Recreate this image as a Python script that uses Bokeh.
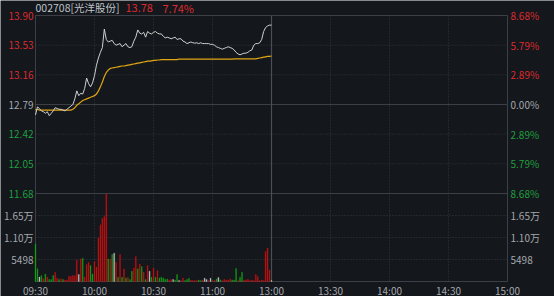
from bokeh.plotting import figure
from bokeh.models import Range1d, ColumnDataSource
from bokeh.core.properties import value
from bokeh.embed import file_html
from bokeh.resources import INLINE

# ---------------- data ----------------
stock_name = "002708[光洋股份]"
last_price = "13.78"
last_pct = "7.74%"
prev_close = 12.79

minutes = list(range(121))
price = [12.66, 12.76, 12.74, 12.71, 12.70, 12.68, 12.70, 12.65, 12.68, 12.71,
         12.75, 12.74, 12.73, 12.73, 12.72, 12.71, 12.73, 12.75, 12.77, 12.79,
         12.86, 12.96, 12.90, 12.93, 12.92, 12.99, 13.12, 13.05, 13.01, 13.06,
         13.15, 13.28, 13.37, 13.44, 13.50, 13.73, 13.60, 13.57, 13.58, 13.59,
         13.55, 13.53, 13.54, 13.55, 13.51, 13.53, 13.55, 13.51, 13.50, 13.51,
         13.58, 13.63, 13.72, 13.68, 13.67, 13.69, 13.63, 13.70, 13.68, 13.67,
         13.69, 13.70, 13.68, 13.67, 13.67, 13.64, 13.62, 13.63, 13.62, 13.61,
         13.62, 13.63, 13.60, 13.61, 13.61, 13.58, 13.57, 13.55, 13.56, 13.57,
         13.56, 13.555, 13.56, 13.55, 13.56, 13.55, 13.55, 13.55, 13.55, 13.54,
         13.54, 13.53, 13.51, 13.50, 13.49, 13.48, 13.49, 13.50, 13.51, 13.50,
         13.49, 13.47, 13.44, 13.42, 13.41, 13.42, 13.43, 13.43, 13.44, 13.46,
         13.47, 13.53, 13.55, 13.55, 13.56, 13.60, 13.70, 13.75, 13.77, 13.78,
         13.78]
avg_price = [12.72, 12.73, 12.72, 12.72, 12.72, 12.72, 12.72, 12.72, 12.72, 12.72,
             12.72, 12.72, 12.72, 12.72, 12.72, 12.72, 12.72, 12.72, 12.72, 12.73,
             12.75, 12.78, 12.80, 12.82, 12.84, 12.85, 12.86, 12.87, 12.88, 12.89,
             12.90, 12.92, 12.96, 13.01, 13.07, 13.14, 13.19, 13.22, 13.24, 13.245,
             13.25, 13.255, 13.26, 13.265, 13.27, 13.27, 13.275, 13.28, 13.285, 13.29,
             13.295, 13.30, 13.305, 13.31, 13.315, 13.32, 13.325, 13.33, 13.33, 13.335,
             13.34, 13.34, 13.345, 13.345, 13.35, 13.35, 13.35, 13.35, 13.35, 13.35,
             13.35, 13.35, 13.35, 13.355, 13.355, 13.355, 13.355, 13.355, 13.355, 13.355,
             13.355, 13.355, 13.355, 13.355, 13.355, 13.355, 13.355, 13.355, 13.355, 13.355,
             13.355, 13.355, 13.355, 13.355, 13.355, 13.355, 13.355, 13.355, 13.355, 13.355,
             13.355, 13.36, 13.36, 13.36, 13.36, 13.36, 13.36, 13.36, 13.36, 13.36,
             13.36, 13.36, 13.36, 13.365, 13.37, 13.375, 13.38, 13.385, 13.39, 13.39,
             13.395]
volume = [9400, 3200, 1100, 1500, 700, 1900, 1100, 500, 500, 1500,
          2300, 900, 500, 700, 500, 400, 400, 1300, 1300, 1500,
          1500, 5400, 1750, 5650, 5800, 1100, 4250, 4800, 4000, 1900,
          5000, 3600, 10900, 14200, 15800, 16250, 21900, 5650, 5650, 6750,
          7080, 4830, 1080, 6750, 1080, 3170, 900, 1080, 500, 2580,
          3400, 6250, 3170, 4400, 3750, 2330, 500, 4000, 2580, 1080,
          3400, 1080, 2750, 900, 1080, 900, 500, 650, 400, 500,
          500, 400, 1750, 250, 250, 900, 250, 500, 830, 400,
          250, 250, 250, 400, 250, 400, 830, 500, 250, 830,
          250, 250, 650, 1000, 400, 250, 580, 400, 400, 650,
          400, 400, 3250, 250, 1080, 2330, 400, 400, 580, 250,
          400, 250, 1750, 1250, 250, 400, 250, 7500, 8400, 2900,
          250]
vol_dir = ["g", "g", "w", "g", "r", "g", "r", "g", "g", "g",
           "r", "r", "g", "r", "g", "r", "r", "r", "r", "r",
           "r", "r", "w", "r", "g", "r", "r", "r", "g", "g",
           "r", "r", "r", "r", "r", "r", "r", "g", "r", "g",
           "w", "r", "g", "r", "g", "r", "g", "r", "g", "g",
           "r", "r", "g", "r", "g", "r", "g", "r", "w", "g",
           "r", "g", "r", "g", "g", "g", "g", "g", "r", "r",
           "w", "g", "g", "w", "r", "r", "g", "g", "g", "r",
           "r", "r", "r", "g", "g", "r", "w", "w", "r", "w",
           "r", "r", "g", "w", "g", "r", "r", "r", "r", "r",
           "g", "g", "g", "r", "g", "g", "r", "r", "r", "r",
           "r", "r", "r", "r", "r", "r", "r", "r", "r", "r",
           "w"]

price_ticks = [13.90, 13.53, 13.16, 12.79, 12.42, 12.05, 11.68]
price_tick_labels = ["13.90", "13.53", "13.16", "12.79", "12.42", "12.05", "11.68"]
pct_tick_labels = ["8.68%", "5.79%", "2.89%", "0.00%", "2.89%", "5.79%", "8.68%"]
tick_side = ["up", "up", "up", "flat", "down", "down", "down"]
vol_ticks = [16494, 10996, 5498]
vol_tick_labels = ["1.65万", "1.10万", "5498"]
vol_panel_top = 21992
time_ticks = [0, 30, 60, 90, 120, 150, 180, 210, 240]
time_labels = ["09:30", "10:00", "10:30", "11:00", "13:00", "13:30", "14:00", "14:30", "15:00"]

# ---------------- style ----------------
BG = "#14171c"
GRID = "#34383e"
BORDER = "#3c4046"
RED_T = "#dc2a2f"
GREEN_T = "#1f9f3f"
GREY_T = "#a4a8ae"
TITLE_T = "#bfc3c9"
LINE_C = "#d0d0d0"
AVG_C = "#e0a614"
BAR_C = {"r": "#c41212", "g": "#15a015", "w": "#c4c4c4"}
FONT = value("Noto Sans CJK SC")

W, H = 554, 296
# frame box in pixels: the chart grid area
FL, FR, FT, FB = 35, 507, 15, 281
PANEL_SPLIT = 193          # pixel row of 11.68 / volume panel top

ppp = (price_ticks[0] - price_ticks[-1]) / (PANEL_SPLIT - FT)   # price per pixel
vpp = vol_panel_top / (FB - PANEL_SPLIT)                        # volume per pixel


def px_x(px):
    return (px - FL) / (FR - FL) * 240.0


def py_price(py):
    return price_ticks[0] - (py - FT) * ppp


def py_vol(py):
    return (FB - py) * vpp


p = figure(width=W, height=H, output_backend="svg", toolbar_location=None,
           x_range=Range1d(px_x(0), px_x(W)), y_range=Range1d(py_price(H), py_price(0)),
           x_axis_type=None, y_axis_type=None,
           min_border=0, min_border_left=0, min_border_right=0,
           min_border_top=0, min_border_bottom=0,
           background_fill_color=BG, border_fill_color=BG)
p.extra_y_ranges = {"vol": Range1d(py_vol(H), py_vol(0))}
p.grid.visible = False
p.outline_line_color = None

x0, x1 = time_ticks[0], time_ticks[-1]
ptop, pbot = price_ticks[0], py_price(FB)

# dotted grid
hg = [13.53, 13.16, 12.42, 12.05]
p.multi_line(xs=[[x0, x1]] * len(hg), ys=[[t, t] for t in hg], line_color=GRID,
             line_dash="1 2", line_width=1)
p.multi_line(xs=[[x0, x1]] * len(vol_ticks), ys=[[v, v] for v in vol_ticks], y_range_name="vol",
             line_color=GRID, line_dash="1 2", line_width=1)
vg = [30, 60, 90, 150, 180, 210]
p.multi_line(xs=[[t, t] for t in vg], ys=[[ptop, pbot]] * len(vg), line_color=GRID,
             line_dash="1 2", line_width=1)

# solid lines: frame border, prev close, panel split, midday
p.multi_line(xs=[[x0, x1, x1, x0, x0]], ys=[[ptop, ptop, pbot, pbot, ptop]],
             line_color=BORDER, line_width=1)
p.multi_line(xs=[[x0, x1], [x0, x1]], ys=[[prev_close, prev_close], [price_ticks[-1], price_ticks[-1]]],
             line_color=BORDER, line_width=1)
p.multi_line(xs=[[120, 120]], ys=[[ptop, pbot]], line_color="#4a4e55", line_width=1.2)

# volume bars
vsrc = ColumnDataSource(dict(x=minutes, top=volume, c=[BAR_C[d] for d in vol_dir]))
p.vbar(x="x", top="top", bottom=0, width=0.5, source=vsrc, y_range_name="vol",
       fill_color="c", line_color="c", line_width=0.3)

# price lines
p.line(minutes, avg_price, line_color=AVG_C, line_width=1.2)
p.line(minutes, price, line_color=LINE_C, line_width=1)

# texts
col_for = {"up": RED_T, "flat": GREY_T, "down": GREEN_T}
p.text(x=[px_x(33)] * 7, y=price_ticks, text=price_tick_labels,
       text_color=[col_for[s] for s in tick_side], text_align="right",
       text_baseline="middle", text_font=FONT, text_font_size=value("10px"))
p.text(x=[px_x(510)] * 7, y=price_ticks, text=pct_tick_labels,
       text_color=[col_for[s] for s in tick_side], text_align="left",
       text_baseline="middle", text_font=FONT, text_font_size=value("10px"))
p.text(x=[px_x(33)] * 3, y=vol_ticks, text=vol_tick_labels, y_range_name="vol",
       text_color=GREY_T, text_align="right", text_baseline="middle",
       text_font=FONT, text_font_size=value("10px"))
p.text(x=[px_x(510)] * 3, y=vol_ticks, text=vol_tick_labels, y_range_name="vol",
       text_color=GREY_T, text_align="left", text_baseline="middle",
       text_font=FONT, text_font_size=value("10px"))
p.text(x=time_ticks, y=[py_price(289.5)] * 9, text=time_labels, text_color=GREY_T,
       text_align="center", text_baseline="middle", text_font=FONT, text_font_size=value("10px"))
p.text(x=[px_x(35)], y=[py_price(7)], text=[stock_name], text_color=TITLE_T,
       text_align="left", text_baseline="middle", text_font=FONT, text_font_size=value("10.5px"))
p.text(x=[px_x(125), px_x(162)], y=[py_price(7)] * 2, text=[last_price, last_pct],
       text_color=RED_T, text_align="left", text_baseline="middle", text_font=FONT,
       text_font_size=value("11px"))

open("out.html", "w").write(file_html(p, INLINE))
